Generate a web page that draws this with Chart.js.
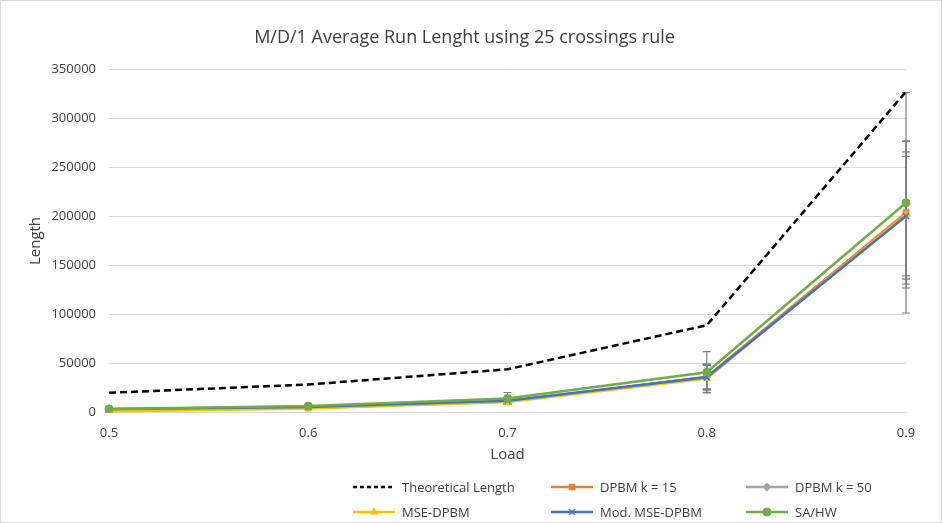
<!DOCTYPE html>
<html>
<head>
<meta charset="utf-8">
<script src="https://cdn.jsdelivr.net/npm/chart.js@4.4.1/dist/chart.umd.min.js"></script>
<style>
  html, body { margin: 0; padding: 0; background: #fff; }
  #wrap { position: relative; width: 942px; height: 523px; box-sizing: border-box; border: 1px solid #d9d9d9; font-family: "Open Sans", "Noto Sans", sans-serif; }
  #chart { position: absolute; left: 0; top: 0; }
  #legend { position: absolute; left: 0; top: 476px; width: 942px; height: 46px; }
  .item { position: absolute; height: 20px; display: flex; align-items: center; font-size: 13px; color: #404040; white-space: nowrap; }
  .item canvas { margin-right: 7px; }
</style>
</head>
<body>
<div id="wrap">
  <canvas id="chart" width="940" height="521"></canvas>
  <div id="legend"></div>
</div>
<script>
// données
const loads = ["0.5", "0.6", "0.7", "0.8", "0.9"];
const yTicks = [0, 50000, 100000, 150000, 200000, 250000, 300000, 350000];

const theoretical = [20000, 28500, 44000, 89000, 327500];
const dpbm15 = [2000, 4500, 11000, 36500, 204000];
const dpbm50 = [2500, 5000, 11500, 36000, 201000];
const mseDpbm = [1000, 4000, 10500, 34500, 202000];
const modMseDpbm = [3500, 5500, 12000, 35800, 200500];
const saHw = [3500, 6500, 14300, 41000, 214000];

// demi-largeurs des barres d'erreur
const errDpbm15 = [800, 1000, 2000, 13000, 73000];
const errDpbm50 = [800, 1000, 2000, 12000, 65000];
const errMse = [800, 1000, 2000, 14000, 75000];
const errMod = [800, 1000, 2000, 13000, 61000];
const errSaHw = [1000, 1500, 6000, 21000, 112500];

const legendPos = [
  { x: 352, y: 0 }, { x: 550, y: 0 }, { x: 745, y: 0 },
  { x: 352, y: 25 }, { x: 550, y: 25 }, { x: 745, y: 25 },
];

function series(label, data, color, style, err, order) {
  return {
    label: label,
    data: data,
    borderColor: color,
    backgroundColor: color,
    borderWidth: 2.5,
    pointStyle: style,
    pointRadius: 4,
    pointBorderWidth: style === "crossRot" ? 1.5 : 1,
    errors: err,
    order: order,
  };
}

const datasets = [
  {
    label: "Theoretical Length",
    data: theoretical,
    borderColor: "#000000",
    backgroundColor: "#000000",
    borderWidth: 2.5,
    borderDash: [7, 4],
    pointRadius: 0,
    pointStyle: false,
    order: 6,
  },
  series("DPBM k = 15", dpbm15, "#ED7D31", "rect", errDpbm15, 5),
  series("DPBM k = 50", dpbm50, "#A5A5A5", "rectRot", errDpbm50, 4),
  series("MSE-DPBM", mseDpbm, "#FFC000", "triangle", errMse, 3),
  series("Mod. MSE-DPBM", modMseDpbm, "#4472C4", "crossRot", errMod, 2),
  series("SA/HW", saHw, "#70AD47", "circle", errSaHw, 1),
];

// barres d'erreur dessinées avec les échelles du graphique
const errorBars = {
  id: "errorBars",
  beforeDatasetsDraw(chart) {
    const ctx = chart.ctx;
    const y = chart.scales.y;
    ctx.save();
    ctx.strokeStyle = "#7f7f7f";
    ctx.lineWidth = 1.2;
    chart.data.datasets.forEach(function (ds, i) {
      if (!ds.errors) return;
      const meta = chart.getDatasetMeta(i);
      meta.data.forEach(function (pt, j) {
        const v = ds.data[j];
        const e = ds.errors[j];
        const top = y.getPixelForValue(v + e);
        const bot = y.getPixelForValue(Math.max(0, v - e));
        ctx.beginPath();
        ctx.moveTo(pt.x, top);
        ctx.lineTo(pt.x, bot);
        ctx.moveTo(pt.x - 4, top);
        ctx.lineTo(pt.x + 4, top);
        ctx.moveTo(pt.x - 4, bot);
        ctx.lineTo(pt.x + 4, bot);
        ctx.stroke();
      });
    });
    ctx.restore();
  },
};

const font = "'Open Sans', 'Noto Sans', sans-serif";

const chart = new Chart(document.getElementById("chart"), {
  type: "line",
  data: { labels: loads, datasets: datasets },
  plugins: [errorBars],
  options: {
    responsive: false,
    animation: false,
    layout: { padding: { left: 22, right: 35, top: 0, bottom: 54 } },
    plugins: {
      legend: { display: false },
      tooltip: { enabled: false },
      title: {
        display: true,
        text: "M/D/1 Average Run Lenght using 25 crossings rule",
        color: "#404040",
        font: { family: font, size: 18, weight: "normal" },
        padding: { top: 26, bottom: 21 },
      },
    },
    scales: {
      x: {
        offset: false,
        grid: { display: false },
        border: { color: "#d9d9d9" },
        ticks: { color: "#404040", font: { family: font, size: 13 }, padding: 5 },
        title: { display: true, text: "Load", color: "#404040", font: { family: font, size: 15 }, padding: { top: 0 } },
      },
      y: {
        min: 0,
        max: 350000,
        afterBuildTicks: function (scale) {
          scale.ticks = yTicks.map(function (v) { return { value: v }; });
        },
        grid: { color: "#d9d9d9", drawTicks: false },
        border: { display: false },
        ticks: {
          color: "#404040",
          font: { family: font, size: 13 },
          padding: 13,
          callback: function (v) { return String(v); },
        },
        title: { display: true, text: "Length", color: "#404040", font: { family: font, size: 15 }, padding: { bottom: 4 } },
        afterFit: function (scale) { scale.width = 86; },
      },
    },
  },
});

// légende HTML en trois colonnes
const legend = document.getElementById("legend");
datasets.forEach(function (ds, i) {
  const item = document.createElement("div");
  item.className = "item";
  item.style.left = legendPos[i].x + "px";
  item.style.top = legendPos[i].y + "px";
  const c = document.createElement("canvas");
  c.width = 42;
  c.height = 12;
  const cx = c.getContext("2d");
  cx.strokeStyle = ds.borderColor;
  cx.lineWidth = 2.5;
  if (ds.borderDash) cx.setLineDash([4, 3]);
  cx.beginPath();
  cx.moveTo(0, 6);
  cx.lineTo(42, 6);
  cx.stroke();
  cx.setLineDash([]);
  if (ds.pointStyle) {
    cx.fillStyle = ds.backgroundColor;
    cx.lineWidth = ds.pointBorderWidth;
    Chart.helpers.drawPoint(cx, { pointStyle: ds.pointStyle, radius: 4, rotation: 0, borderWidth: ds.pointBorderWidth }, 21, 6);
  }
  item.appendChild(c);
  const t = document.createElement("span");
  t.textContent = ds.label;
  item.appendChild(t);
  legend.appendChild(item);
});
</script>
</body>
</html>
